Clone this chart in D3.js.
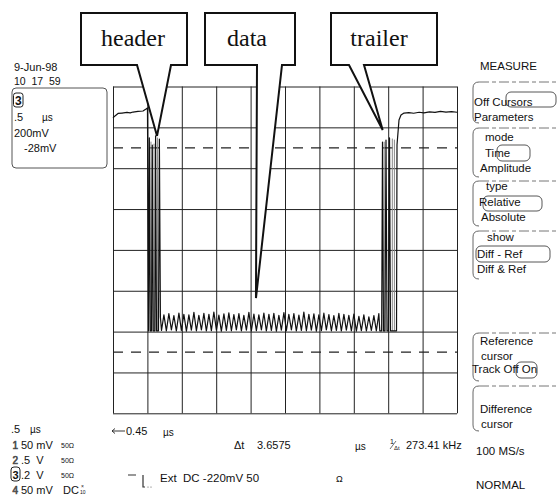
<!DOCTYPE html>
<html>
<head>
<meta charset="utf-8">
<script src="https://cdn.jsdelivr.net/npm/d3@7"></script>
<style>
  html, body { margin: 0; padding: 0; background: #fff; }
  svg { display: block; }
  text { font-family: "Liberation Sans", Arial, sans-serif; fill: #111; white-space: pre; }
  .serif { font-family: "Liberation Serif", "Times New Roman", serif; }
</style>
</head>
<body>
<svg id="scope" width="558" height="502"></svg>
<script>
// ---- acquisition settings (0.5 µs/div, 200 mV/div, 10 x 8 divisions) ----
const timeDivisions = [0, 0.5, 1, 1.5, 2, 2.5, 3, 3.5, 4, 4.5, 5];           // µs
const voltDivisions = [-0.8, -0.6, -0.4, -0.2, 0, 0.2, 0.4, 0.6, 0.8];       // V
const cursorLevels = [0.5, -0.5];                                          // V, reference / difference

// ---- channel 3 waveform: [time µs, level V] ----
const waveform = [
  [0.000, 0.646], [0.029, 0.656], [0.073, 0.668], [0.131, 0.670], [0.203, 0.673],
  [0.250, 0.671], [0.291, 0.675], [0.363, 0.678], [0.436, 0.680], [0.480, 0.690],
  [0.501, 0.695], [0.516, -0.396],
  // header
  [0.528, 0.548], [0.541, -0.396], [0.560, -0.396], [0.571, 0.513], [0.584, -0.396],
  [0.608, -0.396], [0.619, 0.558], [0.632, -0.396], [0.661, -0.396], [0.674, 0.543],
  [0.689, -0.330],
  // data
  [0.705, -0.394], [0.740, -0.318], [0.776, -0.396], [0.812, -0.312], [0.849, -0.392],
  [0.885, -0.322], [0.921, -0.397], [0.958, -0.309], [0.994, -0.394], [1.030, -0.315],
  [1.067, -0.398], [1.103, -0.318], [1.139, -0.393], [1.176, -0.306], [1.212, -0.396],
  [1.248, -0.320], [1.285, -0.392], [1.321, -0.311], [1.357, -0.397], [1.394, -0.316],
  [1.430, -0.395], [1.466, -0.304], [1.503, -0.393], [1.539, -0.319], [1.575, -0.398],
  [1.612, -0.313], [1.648, -0.394], [1.684, -0.308], [1.721, -0.396], [1.757, -0.317],
  [1.793, -0.392], [1.830, -0.312], [1.866, -0.396], [1.902, -0.321], [1.939, -0.393],
  [1.975, -0.306], [2.011, -0.397], [2.048, -0.314], [2.084, -0.395], [2.120, -0.318],
  [2.157, -0.392], [2.193, -0.309], [2.229, -0.397], [2.266, -0.316], [2.302, -0.394],
  [2.338, -0.311], [2.375, -0.398], [2.411, -0.320], [2.447, -0.393], [2.484, -0.307],
  [2.520, -0.396], [2.556, -0.315], [2.593, -0.392], [2.629, -0.312], [2.665, -0.397],
  [2.702, -0.319], [2.738, -0.394], [2.774, -0.305], [2.811, -0.396], [2.847, -0.316],
  [2.883, -0.393], [2.920, -0.313], [2.956, -0.398], [2.992, -0.318], [3.029, -0.395],
  [3.065, -0.310], [3.101, -0.392], [3.138, -0.317], [3.174, -0.396], [3.210, -0.322],
  [3.247, -0.394], [3.283, -0.311], [3.319, -0.397], [3.356, -0.316], [3.392, -0.393],
  [3.428, -0.320], [3.465, -0.396], [3.501, -0.314], [3.537, -0.398], [3.574, -0.325],
  [3.610, -0.395], [3.646, -0.318], [3.683, -0.397], [3.719, -0.328], [3.755, -0.394],
  [3.792, -0.322], [3.828, -0.396], [3.864, -0.312], [3.878, -0.396],
  // trailer
  [3.905, -0.396], [3.917, 0.528], [3.931, -0.396], [3.953, -0.396], [3.968, 0.538],
  [3.983, -0.396], [4.004, -0.396], [4.019, 0.548], [4.033, -0.396], [4.121, -0.396],
  [4.128, 0.514], [4.157, 0.636], [4.186, 0.660], [4.230, 0.670], [4.300, 0.672],
  [4.370, 0.669], [4.450, 0.674], [4.520, 0.671], [4.600, 0.676], [4.680, 0.673],
  [4.760, 0.678], [4.840, 0.675], [4.920, 0.677], [5.000, 0.674]
];

// earlier sweeps left on screen by persistence: [time µs, top level V]
const persistPulses = [
  [0.552, 0.530], [0.596, 0.520], [0.646, 0.550],
  [3.942, 0.530], [4.060, 0.545], [4.090, 0.540]
];

// annotations pointing into the trace: label and the [µs, V] they point at
const calloutLabels = ["header", "data", "trailer"];
const calloutTargets = [[0.64, 0.558], [2.078, -0.236], [3.92, 0.587]];

// ---- layout ----
const svg = d3.select("#scope");
const grid = { left: 113, right: 457, top: 86.5, bottom: 413.3 };

const x = d3.scaleLinear().domain([0, 5]).range([grid.left, grid.right]);
const y = d3.scaleLinear().domain([-0.8, 0.8]).range([grid.bottom, grid.top]);

// graticule drawn with axis generators
const gGrid = svg.append("g");
gGrid.append("g")
  .attr("transform", `translate(0,${grid.bottom})`)
  .call(d3.axisBottom(x).tickValues(timeDivisions)
    .tickSize(-(grid.bottom - grid.top)).tickFormat(""))
  .call(g => g.select(".domain").remove())
  .call(g => g.selectAll("line").attr("stroke", "#222").attr("stroke-width", 1));
gGrid.append("g")
  .attr("transform", `translate(${grid.left},0)`)
  .call(d3.axisLeft(y).tickValues(voltDivisions)
    .tickSize(-(grid.right - grid.left)).tickFormat(""))
  .call(g => g.select(".domain").remove())
  .call(g => g.selectAll("line").attr("stroke", "#222").attr("stroke-width", 1));

// cursors
svg.append("g").selectAll("line").data(cursorLevels).join("line")
  .attr("x1", x(0)).attr("x2", x(5))
  .attr("y1", d => y(d)).attr("y2", d => y(d))
  .attr("stroke", "#222").attr("stroke-width", 1.2)
  .attr("stroke-dasharray", "10,8");

// persistence lines
svg.append("g").selectAll("line").data(persistPulses).join("line")
  .attr("x1", d => x(d[0])).attr("x2", d => x(d[0]))
  .attr("y1", y(-0.396)).attr("y2", d => y(d[1]))
  .attr("stroke", "#888").attr("stroke-width", 1);

// trace
const line = d3.line().x(d => x(d[0])).y(d => y(d[1]));
svg.append("path").datum(waveform)
  .attr("d", line)
  .attr("fill", "none").attr("stroke", "#111").attr("stroke-width", 1.2)
  .attr("stroke-linejoin", "round");

// ---- callout boxes ----
const calloutBoxes = [
  { x0: 81, x1: 187, tail: [137, 171], tx: 133 },
  { x0: 205, x1: 295, tail: [257, 282], tx: 247 },
  { x0: 331, x1: 437, tail: [349, 364], tx: 379 }
];
const boxTop = 13, boxBottom = 65;
const gCall = svg.append("g");
calloutLabels.forEach((label, i) => {
  const b = calloutBoxes[i];
  const tip = [x(calloutTargets[i][0]), y(calloutTargets[i][1])];
  const p = d3.path();
  p.moveTo(b.tail[0], boxBottom);
  p.lineTo(b.x0, boxBottom);
  p.lineTo(b.x0, boxTop);
  p.lineTo(b.x1, boxTop);
  p.lineTo(b.x1, boxBottom);
  p.lineTo(b.tail[1], boxBottom);
  p.lineTo(tip[0], tip[1]);
  p.closePath();
  gCall.append("path").attr("d", p.toString())
    .attr("fill", "#fff").attr("stroke", "#111").attr("stroke-width", 2)
    .attr("stroke-linejoin", "miter");
  gCall.append("text").attr("class", "serif")
    .attr("x", b.tx).attr("y", 46).attr("text-anchor", "middle")
    .attr("font-size", 24).text(label);
});

// ---- left info panel ----
const txt = (t, px, py, size = 11, extra = {}) => {
  const s = svg.append("text").attr("x", px).attr("y", py).attr("font-size", size).text(t);
  Object.entries(extra).forEach(([k, v]) => s.attr(k, v));
  return s;
};
txt("9-Jun-98", 14, 71);
txt("10  17  59", 14, 85, 10.5);
svg.append("rect").attr("x", 12).attr("y", 88).attr("width", 95).attr("height", 80)
  .attr("rx", 4).attr("fill", "none").attr("stroke", "#555").attr("stroke-width", 1);
svg.append("rect").attr("x", 13.5).attr("y", 93).attr("width", 9.5).attr("height", 14)
  .attr("rx", 2.5).attr("fill", "none").attr("stroke", "#222").attr("stroke-width", 1);
txt("3", 15, 105, 12, { "font-weight": "bold" });
txt(".5", 14, 121);
txt("\u00b5s", 42, 121, 10);
txt("200mV", 14, 137);
txt("-28mV", 24, 152);

// ---- bottom-left channel settings ----
txt(".5", 11, 433);
txt("\u00b5s", 30, 433, 10);
const channelRows = [
  { id: "1", scale: "50 mV", cpl: "50\u03a9", y: 449 },
  { id: "2", scale: ".5  V", cpl: "50\u03a9", y: 464 },
  { id: "3", scale: ".2  V", cpl: "50\u03a9", y: 479 },
  { id: "4", scale: "50 mV", cpl: "DC", y: 494 }
];
channelRows.forEach(r => {
  if (r.id === "3") {
    svg.append("rect").attr("x", 11).attr("y", r.y - 12).attr("width", 9).attr("height", 14)
      .attr("rx", 3).attr("fill", "none").attr("stroke", "#222").attr("stroke-width", 1);
    txt(r.id, 12.5, r.y, 11, { "font-weight": "bold" });
  } else {
    txt(r.id, 12.5, r.y, 10, { fill: "#fff", stroke: "#555", "stroke-width": 0.6 });
  }
  txt(r.scale, 21, r.y, 11);
  if (r.cpl === "DC") {
    txt(r.cpl, 63, r.y, 11);
    txt("\u00d7", 81, r.y - 6, 5, { fill: "#444" });
    txt("10", 80, r.y, 5, { fill: "#444" });
  } else {
    txt(r.cpl, 61, r.y - 1, 7, { fill: "#444" });
  }
});

// ---- timebase / measurement readout ----
const arrow = d3.path();
arrow.moveTo(125, 431); arrow.lineTo(112, 431);
arrow.moveTo(115, 428.5); arrow.lineTo(112, 431); arrow.lineTo(115, 433.5);
svg.append("path").attr("d", arrow.toString()).attr("fill", "none")
  .attr("stroke", "#222").attr("stroke-width", 0.9);
txt("0.45", 126, 435, 11);
txt("\u00b5s", 163, 436, 10);
txt("\u0394t", 234, 449, 11);
txt("3.6575", 257, 449, 11);
txt("\u00b5s", 355, 450, 10);
txt("1", 390, 444, 7);
svg.append("line").attr("x1", 390).attr("y1", 449).attr("x2", 396).attr("y2", 441)
  .attr("stroke", "#333").attr("stroke-width", 0.7);
txt("\u0394t", 394, 450, 6);
txt("273.41 kHz", 406, 449, 11);

// trigger glyph
const trig = d3.path();
trig.moveTo(128, 475); trig.lineTo(136, 475);
trig.moveTo(143, 475); trig.lineTo(143, 487); trig.lineTo(145, 487);
svg.append("path").attr("d", trig.toString()).attr("fill", "none")
  .attr("stroke", "#333").attr("stroke-width", 1.2);
svg.append("circle").attr("cx", 148).attr("cy", 487).attr("r", 0.6).attr("fill", "#555");
svg.append("circle").attr("cx", 151).attr("cy", 487).attr("r", 0.6).attr("fill", "#555");
txt("Ext  DC -220mV 50", 160, 482, 11.5);
txt("\u03a9", 336, 482, 9);

// ---- right soft-key menu ----
const panelGroups = [
  { top: 82, bottom: 123 }, { top: 128, bottom: 177 }, { top: 181, bottom: 226 },
  { top: 231, bottom: 279 }, { top: 333, bottom: 381 }, { top: 386, bottom: 431 }
];
const gMenu = svg.append("g");
panelGroups.forEach(g => {
  const p = d3.path();
  p.moveTo(479, g.top);
  p.quadraticCurveTo(473, g.top, 473, g.top + 6);
  p.lineTo(473, g.bottom - 6);
  p.quadraticCurveTo(473, g.bottom, 479, g.bottom);
  gMenu.append("path").attr("d", p.toString()).attr("fill", "none")
    .attr("stroke", "#555").attr("stroke-width", 0.9);
  gMenu.append("line").attr("x1", 479).attr("x2", 558).attr("y1", g.top).attr("y2", g.top)
    .attr("stroke", "#666").attr("stroke-width", 0.9).attr("stroke-dasharray", "10,3,4,3");
});
const menuText = [
  ["MEASURE", 480, 70], ["Off Cursors", 474, 106], ["Parameters", 474, 121],
  ["mode", 485, 141], ["Time", 485, 157], ["Amplitude", 480, 172],
  ["type", 486, 190], ["Relative", 479, 206], ["Absolute", 481, 221],
  ["show", 487, 241], ["Diff - Ref", 477, 258], ["Diff & Ref", 477, 273],
  ["Reference", 480, 345], ["cursor", 481, 360], ["Track Off On", 472, 373],
  ["Difference", 480, 413], ["cursor", 481, 428],
  ["100 MS/s", 476, 455], ["NORMAL", 476, 489]
];
menuText.forEach(([t, px, py]) => txt(t, px, py, 11.5));
const selections = [
  [506, 92, 556, 107], [497, 145, 530, 161], [483, 196, 542, 211],
  [476, 246, 550, 262], [516, 362, 537, 378]
];
selections.forEach(([x0, y0, x1, y1]) => {
  gMenu.append("rect").attr("x", x0).attr("y", y0).attr("width", x1 - x0).attr("height", y1 - y0)
    .attr("rx", 5).attr("fill", "none").attr("stroke", "#444").attr("stroke-width", 0.9);
});
</script>
</body>
</html>
